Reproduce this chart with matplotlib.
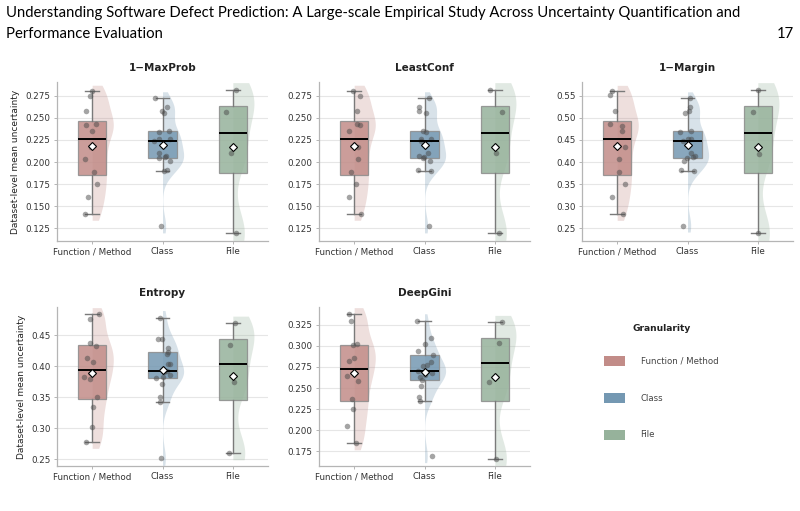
import numpy as np
import matplotlib
matplotlib.use("Agg")
import matplotlib.pyplot as plt
from matplotlib.patches import Patch
from matplotlib.ticker import MultipleLocator

GROUPS = ["Function / Method", "Class", "File"]
COLORS = ["#c28c88", "#7498b2", "#96b29b"]
METRICS = ["1\u2212MaxProb", "LeastConf", "1\u2212Margin", "Entropy", "DeepGini"]
TICK_STEP = [0.025, 0.025, 0.05, 0.05, 0.025]

# dataset-level mean uncertainty
maxprob_func = [0.141, 0.160, 0.175, 0.1888, 0.2036, 0.2169, 0.235, 0.2416, 0.243, 0.2575, 0.275, 0.280]
maxprob_class = [0.127, 0.190, 0.1915, 0.201, 0.2047, 0.2055, 0.2066, 0.2101, 0.2237, 0.2262, 0.2265,
                 0.2345, 0.2357, 0.256, 0.2579, 0.2621, 0.2723]
maxprob_file = [0.1194, 0.2097, 0.2571, 0.2818]

leastconf_func = [0.141, 0.160, 0.175, 0.1888, 0.2036, 0.2169, 0.235, 0.2416, 0.243, 0.2575, 0.275, 0.280]
leastconf_class = [0.127, 0.190, 0.1915, 0.201, 0.2047, 0.2055, 0.2066, 0.2101, 0.2237, 0.2262, 0.2265,
                   0.2345, 0.2357, 0.256, 0.2579, 0.2621, 0.2723]
leastconf_file = [0.1194, 0.2097, 0.2571, 0.2818]

margin_func = [0.2819, 0.3199, 0.3503, 0.3776, 0.4072, 0.4338, 0.4695, 0.4824, 0.4854, 0.515, 0.5508, 0.5599]
margin_class = [0.2560, 0.380, 0.383, 0.402, 0.4094, 0.411, 0.4132, 0.4202, 0.4474, 0.4524, 0.453,
                0.469, 0.4714, 0.512, 0.5158, 0.5242, 0.5446]
margin_file = [0.2389, 0.4194, 0.5135, 0.5637]

entropy_func = [0.278, 0.302, 0.334, 0.3505, 0.380, 0.382, 0.4065, 0.413, 0.4326, 0.4375, 0.4755, 0.484]
entropy_class = [0.2516, 0.342, 0.350, 0.372, 0.3804, 0.383, 0.386, 0.390, 0.3918, 0.403, 0.404,
                 0.420, 0.4228, 0.430, 0.4435, 0.4445, 0.4783]
entropy_file = [0.2598, 0.3739, 0.4342, 0.4701]

gini_func = [0.1846, 0.2053, 0.2249, 0.2376, 0.2584, 0.264, 0.2815, 0.2851, 0.3007, 0.3023, 0.3298, 0.3374]
gini_class = [0.1698, 0.2352, 0.2396, 0.2524, 0.2600, 0.2625, 0.2655, 0.2672, 0.2699, 0.2763, 0.2770,
              0.2803, 0.2895, 0.2939, 0.3023, 0.3094, 0.3298]
gini_file = [0.1666, 0.2568, 0.3031, 0.3278]

DATA = [
    [maxprob_func, maxprob_class, maxprob_file],
    [leastconf_func, leastconf_class, leastconf_file],
    [margin_func, margin_class, margin_file],
    [entropy_func, entropy_class, entropy_file],
    [gini_func, gini_class, gini_file],
]

plt.rcParams["font.family"] = "DejaVu Sans"

fig = plt.figure(figsize=(8.0, 5.11), dpi=100)

# page header
fig.text(0.007, 1 - 17 / 511, "Understanding Software Defect Prediction: A Large-scale Empirical Study Across "
         "Uncertainty Quantification and", family="Lato", fontsize=10.7, va="baseline")
fig.text(0.007, 1 - 38 / 511, "Performance Evaluation", family="Lato", fontsize=10.7, va="baseline")
fig.text(0.992, 1 - 38 / 511, "17", family="Lato", fontsize=10.7, va="baseline", ha="right")

boxes_px = [(57, 82), (319, 82), (582, 82), (57, 307), (319, 307)]
W, H = 211, 159

rng = np.random.default_rng(3)


def half_violin(ax, vals, pos, color):
    vals = np.asarray(vals)
    r = vals.max() - vals.min()
    ys = np.linspace(vals.min() - 0.05 * r, vals.max() + 0.05 * r, 300)
    bw = 0.35 * vals.std(ddof=1)
    dens = np.exp(-0.5 * ((ys[:, None] - vals[None, :]) / bw) ** 2).sum(axis=1)
    wid = dens / dens.max() * 0.3
    ax.fill_betweenx(ys, pos, pos + wid, color=color, alpha=0.28, lw=0, zorder=1)
    return ys.min(), ys.max()


for i, (metric, groups) in enumerate(zip(METRICS, DATA)):
    x0, y0 = boxes_px[i]
    ax = fig.add_axes([x0 / 800, 1 - (y0 + H) / 511, W / 800, H / 511])
    lo, hi = np.inf, -np.inf
    for j, vals in enumerate(groups):
        a, b = half_violin(ax, vals, j, COLORS[j])
        lo, hi = min(lo, a), max(hi, b)

    bp = ax.boxplot(groups, positions=[0, 1, 2], widths=0.4, patch_artist=True, showfliers=False,
                    showmeans=True, whis=1.5, capwidths=0.19,
                    medianprops=dict(color="black", lw=1.4),
                    whiskerprops=dict(color="#7a7a7a", lw=1.0),
                    capprops=dict(color="#7a7a7a", lw=1.0),
                    boxprops=dict(edgecolor="#8c8c8c", lw=0.9),
                    meanprops=dict(marker="D", markerfacecolor="white", markeredgecolor="black",
                                   markersize=4.2, markeredgewidth=0.8), zorder=2)
    for patch, c in zip(bp["boxes"], COLORS):
        patch.set_facecolor(c)
        patch.set_alpha(0.85)
        patch.set_edgecolor("#8c8c8c")
    for k in ("medians", "means"):
        for art in bp[k]:
            art.set_zorder(4)

    for j, vals in enumerate(groups):
        xs = j + rng.uniform(-0.12, 0.12, len(vals))
        ax.scatter(xs, vals, s=16, color="#4a4a4a", alpha=0.5, lw=0, zorder=3)

    span = hi - lo
    ax.set_ylim(lo - 0.004 * span, hi + 0.004 * span)
    ax.set_xlim(-0.5, 2.5)
    ax.yaxis.set_major_locator(MultipleLocator(TICK_STEP[i]))
    ax.set_xticks([0, 1, 2])
    ax.set_xticklabels(GROUPS)
    ax.grid(axis="y", color="#e6e6e6", lw=0.8, zorder=0)
    ax.set_axisbelow(True)
    for s in ("top", "right"):
        ax.spines[s].set_visible(False)
    for s in ("left", "bottom"):
        ax.spines[s].set_color("#b5b5b5")
        ax.spines[s].set_linewidth(0.9)
    ax.tick_params(labelsize=6.3, colors="#333333", length=2.5, width=0.7, pad=2)
    ax.tick_params(color="#b5b5b5")
    ax.set_title(metric, fontsize=7.5, fontweight="bold", color="#222222", pad=8)
    if i in (0, 3):
        ax.set_ylabel("Dataset-level mean uncertainty", fontsize=6.5, color="#222222", labelpad=4)

handles = [Patch(facecolor=c, edgecolor="none", label=g) for g, c in zip(GROUPS, COLORS)]
leg = fig.legend(handles=handles, title="Granularity", loc="upper left",
                 bbox_to_anchor=(601 / 800, 1 - 321 / 511), frameon=False, fontsize=6.2,
                 handlelength=2.4, handleheight=1.45, handletextpad=1.8, labelspacing=3.1,
                 borderaxespad=0)
leg.get_title().set_fontweight("bold")
leg.get_title().set_fontsize(6.6)
leg.get_title().set_color("#222222")
leg._legend_box.sep = 16
for t in leg.get_texts():
    t.set_color("#444444")

fig.savefig("out.png", dpi=100)
